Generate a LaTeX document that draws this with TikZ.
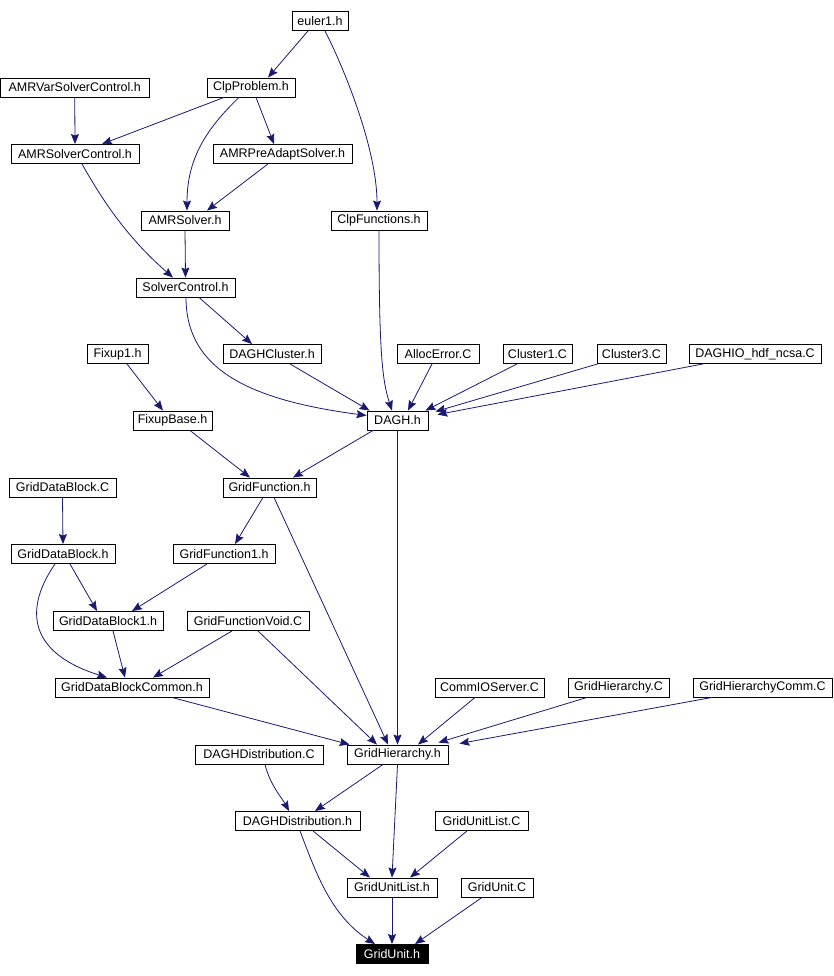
\documentclass[tikz,border=0pt]{standalone}
\usepackage{fontspec}
\setmainfont{Liberation Sans}
\usepackage{tikz}
\usetikzlibrary{arrows.meta, positioning, calc}
\definecolor{edgeblue}{RGB}{25,25,112}
\tikzset{
    filebox/.style={rectangle, draw=black, fill=white, line width=0.9pt,
                    inner sep=0pt, minimum height=19pt, text centered,
                    font=\fontsize{12.5}{14}\selectfont},
    rootbox/.style={filebox, fill=black, text=white},
    arrow/.style={-{Stealth[length=10pt, width=8pt, inset=1.5pt]}, line width=0.8pt, color=edgeblue}
}
\begin{document}
\begin{tikzpicture}[x=1pt, y=-1pt]
    \useasboundingbox (0,0) rectangle (834,976);
    % row 0 - 4
    \node[filebox, minimum width=56pt] (euler) at (320,21) {euler1.h};
    \node[filebox, minimum width=149pt] (amrvar) at (74.75,87.5) {AMRVarSolverControl.h};
    \node[filebox, minimum width=88pt] (clpprob) at (251,87.5) {ClpProblem.h};
    \node[filebox, minimum width=128pt] (amrsolvctl) at (75,154) {AMRSolverControl.h};
    \node[filebox, minimum width=139pt] (amrpre) at (282.5,154) {AMRPreAdaptSolver.h};
    \node[filebox, minimum width=88pt] (amrsolver) at (185,220.5) {AMRSolver.h};
    \node[filebox, minimum width=96pt] (clpfunc) at (379,220.5) {ClpFunctions.h};
    \node[filebox, minimum width=99pt] (solverctl) at (185.5,287.5) {SolverControl.h};
    % row 5 - 6
    \node[filebox, minimum width=61pt] (fixup) at (117.5,354) {Fixup1.h};
    \node[filebox, minimum width=98pt] (daghcluster) at (272,354) {DAGHCluster.h};
    \node[filebox, minimum width=82pt] (allocerr) at (438,354) {AllocError.C};
    \node[filebox, minimum width=69pt] (cluster1) at (537.5,354) {Cluster1.C};
    \node[filebox, minimum width=69pt] (cluster3) at (631.5,354) {Cluster3.C};
    \node[filebox, minimum width=132pt] (daghio) at (755,354) {DAGHIO\_hdf\_ncsa.C};
    \node[filebox, minimum width=79pt] (fixupbase) at (172.5,420.5) {FixupBase.h};
    \node[filebox, minimum width=61pt] (dagh) at (397.5,420.5) {DAGH.h};
    % row 7 - 10
    \node[filebox, minimum width=107pt] (gdbC) at (62.5,487.5) {GridDataBlock.C};
    \node[filebox, minimum width=93pt] (gridfunc) at (269.5,487.5) {GridFunction.h};
    \node[filebox, minimum width=104pt] (gdbh) at (63,554) {GridDataBlock.h};
    \node[filebox, minimum width=102pt] (gridfunc1) at (224,554) {GridFunction1.h};
    \node[filebox, minimum width=110pt] (gdb1) at (108,621) {GridDataBlock1.h};
    \node[filebox, minimum width=122pt] (gfvoid) at (248,621) {GridFunctionVoid.C};
    \node[filebox, minimum width=154pt] (gdbcommon) at (132,687.5) {GridDataBlockCommon.h};
    \node[filebox, minimum width=109pt] (commio) at (489.5,687.5) {CommIOServer.C};
    \node[filebox, minimum width=101pt] (ghC) at (618.5,687.5) {GridHierarchy.C};
    \node[filebox, minimum width=139pt] (ghcomm) at (762.5,687.5) {GridHierarchyComm.C};
    % row 11 - 14
    \node[filebox, minimum width=128pt] (daghdistC) at (259,754.5) {DAGHDistribution.C};
    \node[filebox, minimum width=101pt] (gridhier) at (397.5,754.5) {GridHierarchy.h};
    \node[filebox, minimum width=125pt] (daghdist) at (297.5,821) {DAGHDistribution.h};
    \node[filebox, minimum width=93pt] (gulC) at (481.5,821) {GridUnitList.C};
    \node[filebox, minimum width=90pt] (gul) at (392,887.5) {GridUnitList.h};
    \node[filebox, minimum width=72pt] (guC) at (497,887.5) {GridUnit.C};
    \node[rootbox, minimum width=72pt] (gridunit) at (392,954) {GridUnit.h};

    % include edges
    \draw[arrow] ([xshift=-12pt]euler.south) -- ([xshift=17pt]clpprob.north);
    \draw[arrow] ([xshift=5pt]euler.south) .. controls (345,70) and (377,150) .. ([xshift=-2pt]clpfunc.north);
    \draw[arrow] (amrvar.south) -- (amrsolvctl.north);
    \draw[arrow] ([xshift=-27pt]clpprob.south) -- ([xshift=27pt]amrsolvctl.north);
    \draw[arrow] ([xshift=-12pt]clpprob.south) .. controls (205,130) and (187,160) .. ([xshift=2pt]amrsolver.north);
    \draw[arrow] ([xshift=5pt]clpprob.south) -- ([xshift=-8.5pt]amrpre.north);
    \draw[arrow] ([xshift=-14.5pt]amrpre.south) -- ([xshift=22pt]amrsolver.north);
    \draw[arrow] ([xshift=7pt]amrsolvctl.south) .. controls (105,205) and (130,240) .. ([xshift=-12.5pt]solverctl.north);
    \draw[arrow] (amrsolver.south) -- (solverctl.north);
    \draw[arrow] (clpfunc.south) .. controls (379,350) and (382,380) .. ([xshift=-5.5pt]dagh.north);
    \draw[arrow] ([xshift=13.5pt]solverctl.south) -- ([xshift=-20pt]daghcluster.north);
    \draw[arrow] ([xshift=0.5pt]solverctl.south) .. controls (186,370) and (250,400) .. ([yshift=5pt]dagh.west);
    \draw[arrow] ([xshift=18pt]daghcluster.south) -- ([xshift=3pt]dagh.north west);
    \draw[arrow] ([xshift=-6pt]allocerr.south) -- ([xshift=10.5pt]dagh.north);
    \draw[arrow] ([xshift=-20.5pt]cluster1.south) -- ([xshift=-3pt]dagh.north east);
    \draw[arrow] ([xshift=1pt]cluster3.south west) -- ([xshift=7pt,yshift=-1pt]dagh.north east);
    \draw[arrow] ([xshift=-52pt]daghio.south) -- ([xshift=9pt,yshift=-4pt]dagh.north east);
    \draw[arrow] ([xshift=9.5pt]fixup.south) -- ([xshift=-9.5pt]fixupbase.north);
    \draw[arrow] ([xshift=17.5pt]fixupbase.south) -- ([xshift=-19.5pt]gridfunc.north);
    \draw[arrow] ([xshift=-24.5pt]dagh.south) -- ([xshift=23.5pt]gridfunc.north);
    \draw[arrow] (dagh.south) -- (gridhier.north);
    \draw[arrow] (gdbC.south) -- (gdbh.north);
    \draw[arrow] ([xshift=-6.5pt]gridfunc.south) -- ([xshift=11pt]gridfunc1.north);
    \draw[arrow] ([xshift=4.5pt]gridfunc.south) -- ([xshift=-9.5pt]gridhier.north);
    \draw[arrow] ([xshift=7pt]gdbh.south) -- ([xshift=-11pt]gdb1.north);
    \draw[arrow] ([xshift=-8pt]gdbh.south) .. controls (20,615) and (35,655) .. ([xshift=-25pt]gdbcommon.north);
    \draw[arrow] ([xshift=-17pt]gridfunc1.south) -- ([xshift=24pt]gdb1.north);
    \draw[arrow] ([xshift=5pt]gdb1.south) -- ([xshift=-7pt]gdbcommon.north);
    \draw[arrow] ([xshift=-16pt]gfvoid.south) -- ([xshift=21pt]gdbcommon.north);
    \draw[arrow] ([xshift=10pt]gfvoid.south) -- ([xshift=-20.5pt]gridhier.north);
    \draw[arrow] ([xshift=40pt]gdbcommon.south) -- ([xshift=3pt]gridhier.north west);
    \draw[arrow] ([xshift=-14.5pt]commio.south) -- ([xshift=20.5pt]gridhier.north);
    \draw[arrow] ([xshift=-31.5pt]ghC.south) -- ([xshift=-10pt,yshift=2pt]gridhier.north east);
    \draw[arrow] ([xshift=-50.5pt]ghcomm.south) -- ([xshift=11pt,yshift=1pt]gridhier.north east);
    \draw[arrow] ([xshift=6pt]daghdistC.south) .. controls (270,785) and (282,798) .. ([xshift=-8.5pt]daghdist.north);
    \draw[arrow] ([xshift=-14.5pt]gridhier.south) -- ([xshift=17.5pt]daghdist.north);
    \draw[arrow] (gridhier.south) -- (gul.north);
    \draw[arrow] ([xshift=15.5pt]daghdist.south) -- ([xshift=-22pt]gul.north);
    \draw[arrow] ([xshift=-14.5pt]gulC.south) -- ([xshift=18pt]gul.north);
    \draw[arrow] ([xshift=2.5pt]daghdist.south) .. controls (315,870) and (330,915) .. ([xshift=-17pt]gridunit.north);
    \draw[arrow] (gul.south) -- (gridunit.north);
    \draw[arrow] ([xshift=-15pt]guC.south) -- ([xshift=23pt]gridunit.north);
\end{tikzpicture}
\end{document}
